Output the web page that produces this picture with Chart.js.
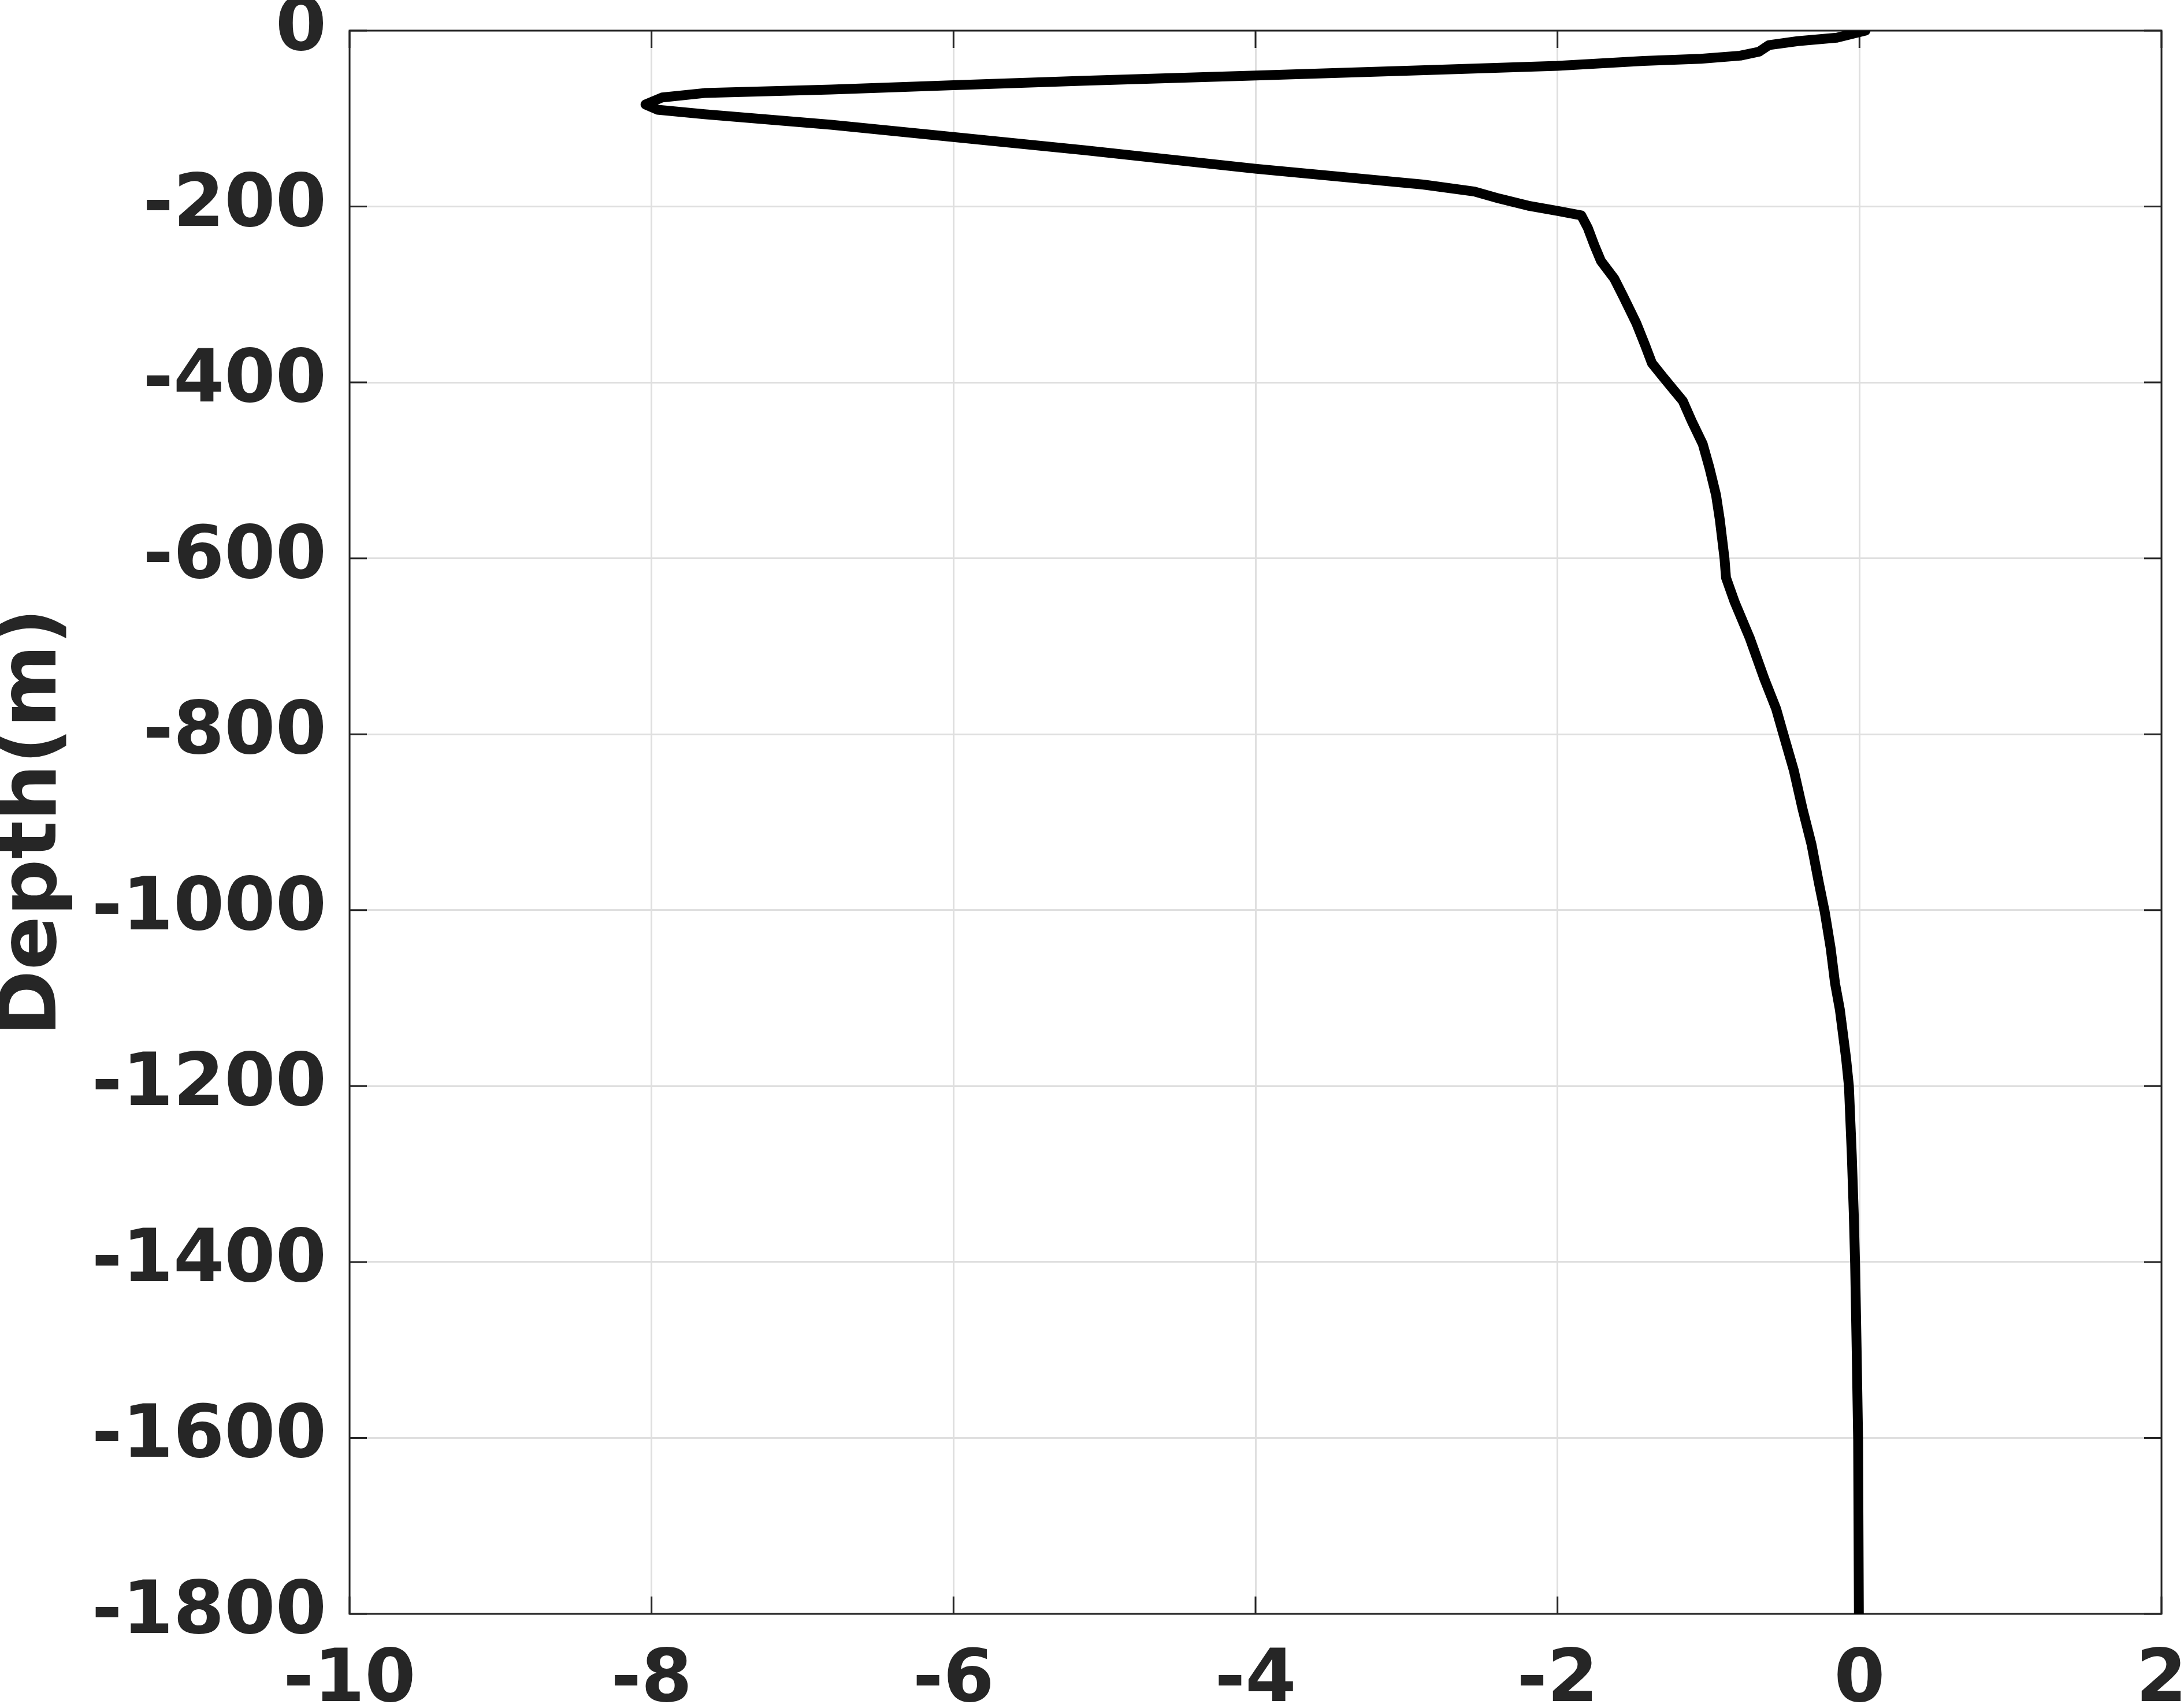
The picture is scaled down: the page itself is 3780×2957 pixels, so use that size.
<!DOCTYPE html>
<html>
<head>
<meta charset="utf-8">
<script src="https://cdn.jsdelivr.net/npm/chart.js@4.4.0/dist/chart.umd.min.js"></script>
<style>
  html, body { margin: 0; padding: 0; background: #fff; }
  #wrap { width: 3780px; height: 2957px; }
</style>
</head>
<body>
<div id="wrap"><canvas id="profile"></canvas></div>
<script>
// profile values (x value, depth in m)
const values = [
    0.04, -0.15, -0.41, -0.60, -0.665, -0.79, -1.05, -1.43, -2.00, -2.88,
    -4.00, -5.13, -6.00, -6.81, -7.65, -7.93, -8.04, -7.96, -7.65, -6.81,
    -6.00, -5.13, -4.00, -2.89, -2.55, -2.385, -2.195, -2.00, -1.843, -1.80,
    -1.756, -1.712, -1.624, -1.565, -1.477, -1.419, -1.375, -1.30, -1.228, -1.17,
    -1.111, -1.038, -0.994, -0.95, -0.925, -0.894, -0.884, -0.826, -0.728, -0.63,
    -0.552, -0.504, -0.435, -0.377, -0.318, -0.269, -0.230, -0.191, -0.162, -0.13,
    -0.089, -0.070, -0.051, -0.038, -0.029, -0.019, -0.009, -0.004
];
const depths = [
    0, -8, -12, -16.5, -24, -28.5, -32, -34.5, -40, -45,
    -51, -57, -62, -67, -71, -76, -84, -90, -95, -107,
    -121, -136, -157, -175, -183, -191, -199, -205, -210, -224,
    -244, -262, -282, -302, -333, -358, -378, -394, -409, -421,
    -444, -470, -497, -528, -556, -600, -622, -650, -690, -737,
    -771, -800, -841, -885, -925, -969, -1002, -1043, -1083, -1113,
    -1168, -1200, -1278, -1344, -1402, -1497, -1602, -1800
];
const xTicks = [-10, -8, -6, -4, -2, 0, 2];
const yTicks = [0, -200, -400, -600, -800, -1000, -1200, -1400, -1600, -1800];
const yTitle = 'Depth(m)';

const textColor = '#262626';
const tickFont = { family: 'DejaVu Sans', weight: 'bold', size: 127 };

// box round the plot with short inward ticks, like the original axes
const boxTicks = {
    id: 'boxTicks',
    beforeDatasetsDraw(chart) {
        const { ctx, chartArea: a, scales } = chart;
        const len = 30;
        ctx.save();
        ctx.strokeStyle = textColor;
        ctx.lineWidth = 3;
        ctx.beginPath();
        scales.x.ticks.forEach(t => {
            const px = scales.x.getPixelForValue(t.value);
            ctx.moveTo(px, a.bottom); ctx.lineTo(px, a.bottom - len);
            ctx.moveTo(px, a.top); ctx.lineTo(px, a.top + len);
        });
        scales.y.ticks.forEach(t => {
            const py = scales.y.getPixelForValue(t.value);
            ctx.moveTo(a.left, py); ctx.lineTo(a.left + len, py);
            ctx.moveTo(a.right, py); ctx.lineTo(a.right - len, py);
        });
        ctx.stroke();
        ctx.strokeRect(a.left, a.top, a.right - a.left, a.bottom - a.top);
        ctx.restore();
    }
};

const points = values.map((v, i) => ({ x: v, y: depths[i] }));

new Chart(document.getElementById('profile'), {
    type: 'scatter',
    data: {
        datasets: [{
            data: points,
            showLine: true,
            borderColor: '#000000',
            backgroundColor: '#000000',
            borderWidth: 17,
            pointRadius: 0,
            tension: 0,
            borderJoinStyle: 'round',
            borderCapStyle: 'round'
        }]
    },
    options: {
        responsive: true,
        maintainAspectRatio: false,
        animation: false,
        devicePixelRatio: 1,
        layout: { padding: { top: 53, right: 39, bottom: 0, left: 0 } },
        plugins: {
            legend: { display: false },
            tooltip: { enabled: false }
        },
        scales: {
            x: {
                type: 'linear',
                min: -10,
                max: 2,
                afterBuildTicks: scale => { scale.ticks = xTicks.map(v => ({ value: v })); },
                afterFit: scale => {
                    scale.height = 163;
                    scale.paddingLeft = 0;
                    scale.paddingRight = 0;
                },
                grid: { color: '#dfdfdf', lineWidth: 3, drawTicks: false },
                border: { display: false },
                ticks: { font: tickFont, color: textColor, padding: 42, maxRotation: 0, callback: v => String(v) }
            },
            y: {
                type: 'linear',
                min: -1800,
                max: 0,
                afterBuildTicks: scale => { scale.ticks = yTicks.map(v => ({ value: v })); },
                afterFit: scale => {
                    scale.width = 605;
                    scale.paddingTop = 0;
                    scale.paddingBottom = 0;
                },
                grid: { color: '#dfdfdf', lineWidth: 3, drawTicks: false },
                border: { display: false },
                ticks: { font: tickFont, color: textColor, padding: 40, callback: v => String(v) },
                title: {
                    display: true,
                    text: yTitle,
                    color: textColor,
                    padding: 0,
                    font: { family: 'DejaVu Sans', weight: 'bold', size: 138, lineHeight: 0.87 }
                }
            }
        }
    },
    plugins: [boxTicks]
});
</script>
</body>
</html>
